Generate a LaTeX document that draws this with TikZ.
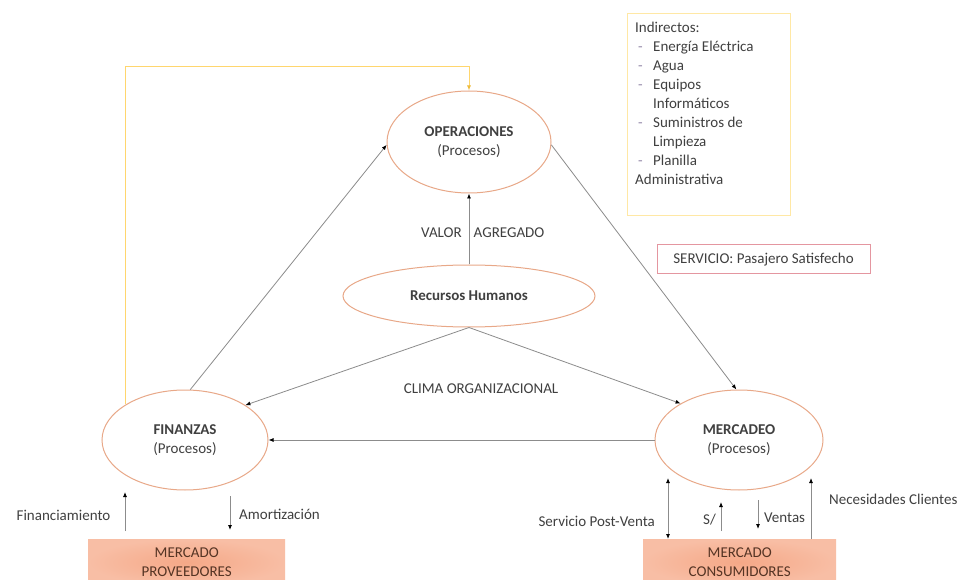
\documentclass[tikz,border=0pt]{standalone}
\usepackage{fontspec}
\setmainfont{Carlito}
\usetikzlibrary{shapes.geometric,arrows.meta,calc}
\definecolor{ringc}{RGB}{232,168,136}
\definecolor{linec}{RGB}{140,140,140}
\definecolor{goldc}{RGB}{255,214,110}
\definecolor{goldtip}{RGB}{238,188,60}
\definecolor{paleyel}{RGB}{255,232,165}
\definecolor{rosec}{RGB}{228,150,160}
\definecolor{salmon}{RGB}{245,168,135}
\definecolor{salmonlt}{RGB}{248,190,165}
\definecolor{txt}{RGB}{64,64,64}
\definecolor{boxtxt}{RGB}{85,52,36}
\definecolor{bulletc}{RGB}{150,140,170}
\begin{document}
\begin{tikzpicture}[x=1pt,y=-1pt,
  every node/.style={font=\fontsize{15}{19}\selectfont, text=txt},
  proc/.style={ellipse, draw=ringc, line width=1pt, fill=white, inner sep=0pt, align=center},
  market/.style={rectangle, inner color=salmon, outer color=salmonlt, text=boxtxt, inner sep=0pt, align=center, anchor=north west},
  flow/.style={draw=linec, line width=0.8pt, -{Latex[length=5pt,width=4pt,color=black]}},
  flowboth/.style={draw=linec, line width=0.8pt, {Latex[length=5pt,width=4pt,color=black]}-{Latex[length=5pt,width=4pt,color=black]}},
  goldline/.style={draw=goldc, line width=1pt, -{Latex[length=5pt,width=4pt,color=goldtip]}},
  lbl/.style={inner sep=0pt}
]
\clip (0,0) rectangle (967,580);
\fill[white] (0,0) rectangle (967,580);

% process ellipses
\node[proc, minimum width=164pt, minimum height=102pt] (oper) at (469,142) {\textbf{OPERACIONES}\\(Procesos)};
\node[proc, minimum width=252pt, minimum height=62pt] (rh) at (469,296) {\textbf{Recursos Humanos}};
\node[proc, minimum width=166pt, minimum height=100pt] (fin) at (185,440) {\textbf{FINANZAS}\\(Procesos)};
\node[proc, minimum width=168pt, minimum height=100pt] (mer) at (739,440) {\textbf{MERCADEO}\\(Procesos)};

% markets
\node[market, minimum width=197pt, minimum height=46pt] (prov) at (88,539) {MERCADO\\PROVEEDORES};
\node[market, minimum width=193pt, minimum height=46pt] (cons) at (643,539) {MERCADO\\CONSUMIDORES};

% indirect costs box
\node[draw=paleyel, line width=1pt, minimum width=163pt, minimum height=202pt, inner sep=0pt, anchor=north west] (indir) at (627,13) {};
\node[lbl, anchor=north west, align=left] (indirtxt) at (635,22) {Indirectos:\\
\hspace*{3pt}\makebox[15pt][l]{\textcolor{bulletc}{-}}Energía Eléctrica\\
\hspace*{3pt}\makebox[15pt][l]{\textcolor{bulletc}{-}}Agua\\
\hspace*{3pt}\makebox[15pt][l]{\textcolor{bulletc}{-}}Equipos\\
\hspace*{18pt}Informáticos\\
\hspace*{3pt}\makebox[15pt][l]{\textcolor{bulletc}{-}}Suministros de\\
\hspace*{18pt}Limpieza\\
\hspace*{3pt}\makebox[15pt][l]{\textcolor{bulletc}{-}}Planilla\\
Administrativa};

% service box
\node[draw=rosec, line width=1pt, minimum width=213pt, minimum height=29pt, inner sep=0pt] (serv) at (763.5,259.5) {SERVICIO: Pasajero Satisfecho};

% main flows
\draw[flow] (fin.84) -- (oper.182);
\draw[flow] (oper.-2) -- (mer.93);
\draw[flow] (rh.north) -- (oper.south);
\draw[flow] (rh.south) -- (fin.30);
\draw[flow] (rh.south) -- (mer.148);
\draw[flow] (mer.west) -- (fin.east);

% feedback from finance to operations
\coordinate (ytop) at (469,67);
\draw[goldline] (fin.149) |- (ytop) -- (oper.north);

% market exchanges
\coordinate (finA) at (125,531);
\coordinate (finB) at (125,492);
\coordinate (amA) at (230,496);
\coordinate (amB) at (230,530);
\coordinate (spvA) at (668,478);
\coordinate (solA) at (721,531);
\coordinate (solB) at (721,502);
\coordinate (venA) at (758,500);
\coordinate (venB) at (758,529);
\coordinate (necB) at (811,478);
\draw[flow] (finA) -- (finB);
\draw[flow] (amA) -- (amB);
\draw[flowboth] (spvA) -- (spvA |- cons.north);
\draw[flow] (solA) -- (solB);
\draw[flow] (venA) -- (venB);
\draw[flow] (necB |- cons.north) -- (necB);

% labels
\node[lbl, anchor=west] (valor) at (421,233) {VALOR\hspace{12pt}AGREGADO};
\node[lbl] (clima) at (481,389) {CLIMA ORGANIZACIONAL};
\node[lbl] (lfin) at (63.5,515) {Financiamiento};
\node[lbl, anchor=west] (lam) at (239,514) {Amortización};
\node[lbl, anchor=east] (lspv) at (655,521) {Servicio Post-Venta};
\node[lbl, anchor=east] (lsol) at (716,520) {S/};
\node[lbl, anchor=west] (lven) at (764,518) {Ventas};
\node[lbl, anchor=west] (lnec) at (829,499) {Necesidades Clientes};
\end{tikzpicture}
\end{document}
